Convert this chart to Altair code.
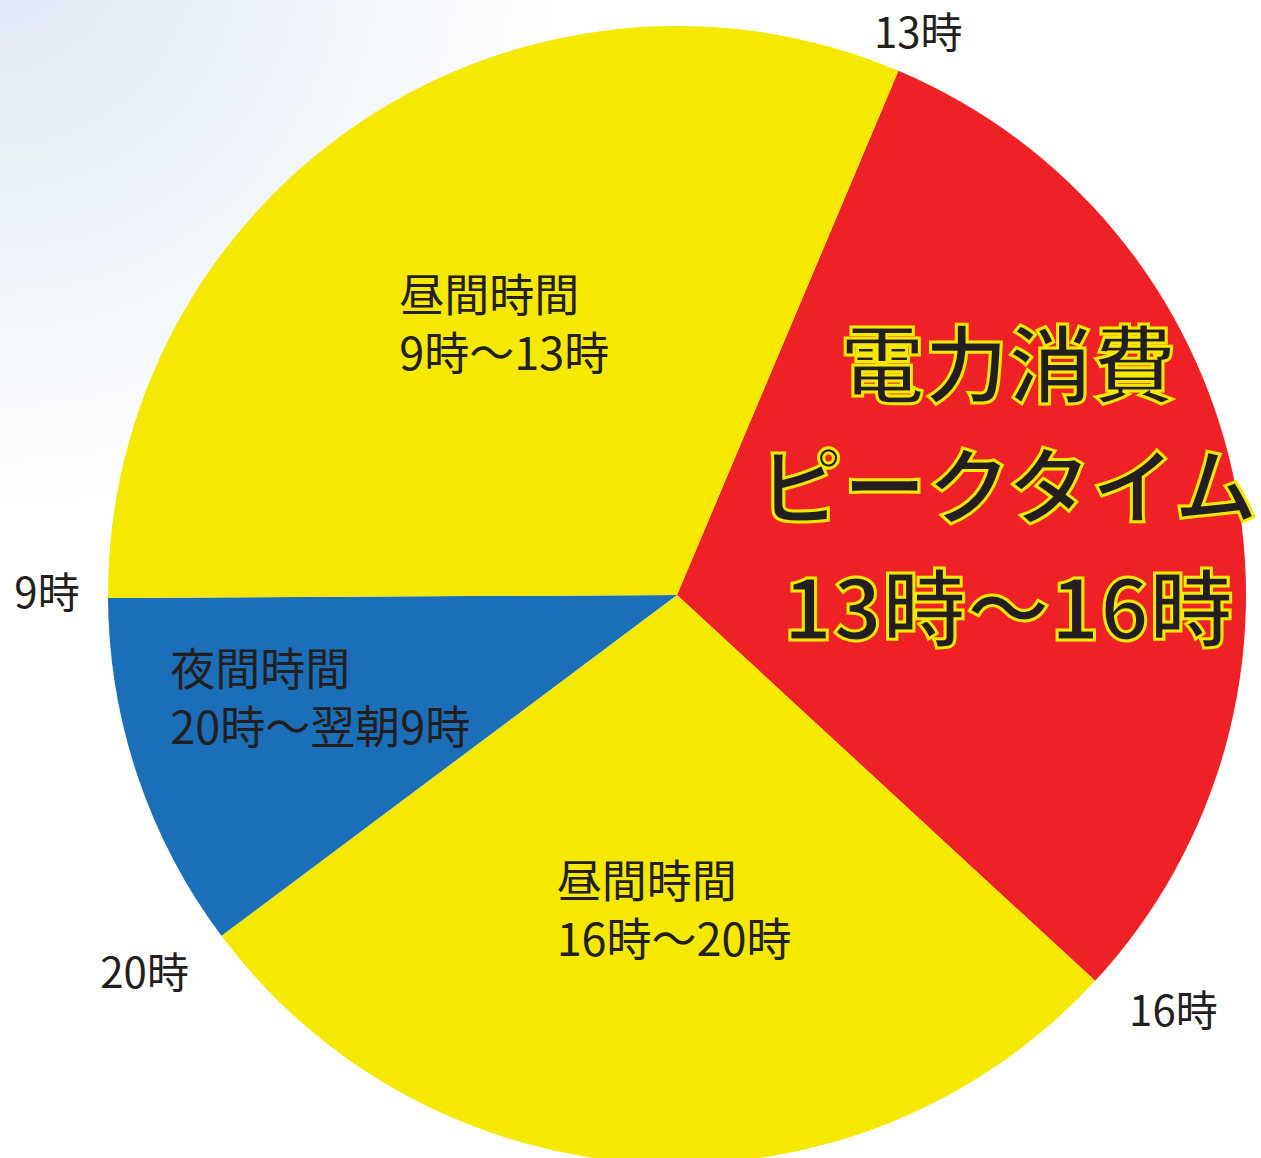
import math
import altair as alt
import pandas as pd

# ---------------- data ----------------
slice_names = ["13時〜16時", "16時〜20時", "20時〜翌朝9時", "9時〜13時"]
slice_values = [109.8, 100.5, 36.5, 113.2]          # share of the dial
boundary_labels = ["13時", "16時", "20時", "9時"]    # label at the start of each slice
inner_labels = [
    "電力消費\nピークタイム\n13時〜16時",
    "昼間時間\n16時〜20時",
    "夜間時間\n20時〜翌朝9時",
    "昼間時間\n9時〜13時",
]

# ---------------- style / layout ----------------
slice_colors = ["#EE2226", "#F5E900", "#1A6FB8", "#F5E900"]
FONT = "Noto Sans CJK JP"
TEXT_COLOR = "#231F20"
W, H = 1261, 1158
CX, CY = 677, 595
R = 569
START = math.radians(22.9)
# boundary label placement: (radius px, angular nudge in value units)
boundary_layout = {"13時": (610, 0.4), "16時": (649, -2.6), "20時": (654, 1.3), "9時": (630, 0.3)}
# inner label placement: radius px, dx, dy, align
inner_layout = [
    dict(r=345, dx=-6, dy=-151, align="center"),
    dict(r=318, dx=-104, dy=-29, align="left"),
    dict(r=333, dx=-191, dy=-29, align="left"),
    dict(r=322, dx=-99, dy=-29, align="left"),
]

total = sum(slice_values)
theta_scale = alt.Scale(domain=[0, total], range=[START, START + 2 * math.pi])

starts = []
acc = 0.0
for v in slice_values:
    starts.append(acc)
    acc += v
mids = [s + v / 2 for s, v in zip(starts, slice_values)]

pie_df = pd.DataFrame({"slice": slice_names, "value": slice_values, "idx": range(len(slice_names))})

bnd_df = pd.DataFrame({
    "label": boundary_labels,
    "pos": [s + boundary_layout[l][1] for s, l in zip(starts, boundary_labels)],
    "r": [boundary_layout[l][0] for l in boundary_labels],
})

bg = alt.Chart(pd.DataFrame({"k": [0]})).mark_rect(
    fill=alt.RadialGradient(
        gradient="radial",
        stops=[alt.GradientStop(color="#DCE7F4", offset=0), alt.GradientStop(color="#FFFFFF", offset=1)],
        x1=0, y1=0, r1=0, x2=0, y2=0, r2=0.45,
    ),
    strokeWidth=0,
).encode(x=alt.value(0), x2=alt.value(W), y=alt.value(0), y2=alt.value(H))

pie = alt.Chart(pie_df).mark_arc(radius=R, strokeWidth=0).encode(
    theta=alt.Theta("value:Q", stack=True, scale=theta_scale),
    color=alt.Color("slice:N", scale=alt.Scale(domain=slice_names, range=slice_colors), legend=None),
    order=alt.Order("idx:Q"),
    x=alt.value(CX),
    y=alt.value(CY),
)

bnd = alt.Chart(bnd_df).mark_text(
    font=FONT, fontSize=42, color=TEXT_COLOR, align="center", baseline="middle"
).encode(
    theta=alt.Theta("pos:Q", stack=None, scale=theta_scale),
    radius=alt.Radius("r:Q", scale=None),
    text="label:N",
    x=alt.value(CX),
    y=alt.value(CY),
)

layers = [bg, pie, bnd]
for i, (txt, mid) in enumerate(zip(inner_labels, mids)):
    lay = inner_layout[i]
    d = pd.DataFrame({"label": [txt], "pos": [mid], "r": [lay["r"]]})
    if i == 0:
        mk = alt.Chart(d).mark_text(
            font=FONT, fontSize=84, fontWeight="bold", fill=TEXT_COLOR, stroke="#F5E900",
            strokeWidth=3, align=lay["align"], baseline="middle", lineBreak="\n",
            lineHeight=122, dx=lay["dx"], dy=lay["dy"],
        )
    else:
        mk = alt.Chart(d).mark_text(
            font=FONT, fontSize=45, color=TEXT_COLOR, align=lay["align"], baseline="middle",
            lineBreak="\n", lineHeight=58, dx=lay["dx"], dy=lay["dy"],
        )
    layers.append(mk.encode(
        theta=alt.Theta("pos:Q", stack=None, scale=theta_scale),
        radius=alt.Radius("r:Q", scale=None),
        text="label:N",
        x=alt.value(CX),
        y=alt.value(CY),
    ))

chart = alt.layer(*layers).properties(
    width=W, height=H, padding=0, autosize="none", background="white"
).configure_view(strokeWidth=0)

chart.save("out.html", embed_options={"renderer": "svg", "actions": False})
